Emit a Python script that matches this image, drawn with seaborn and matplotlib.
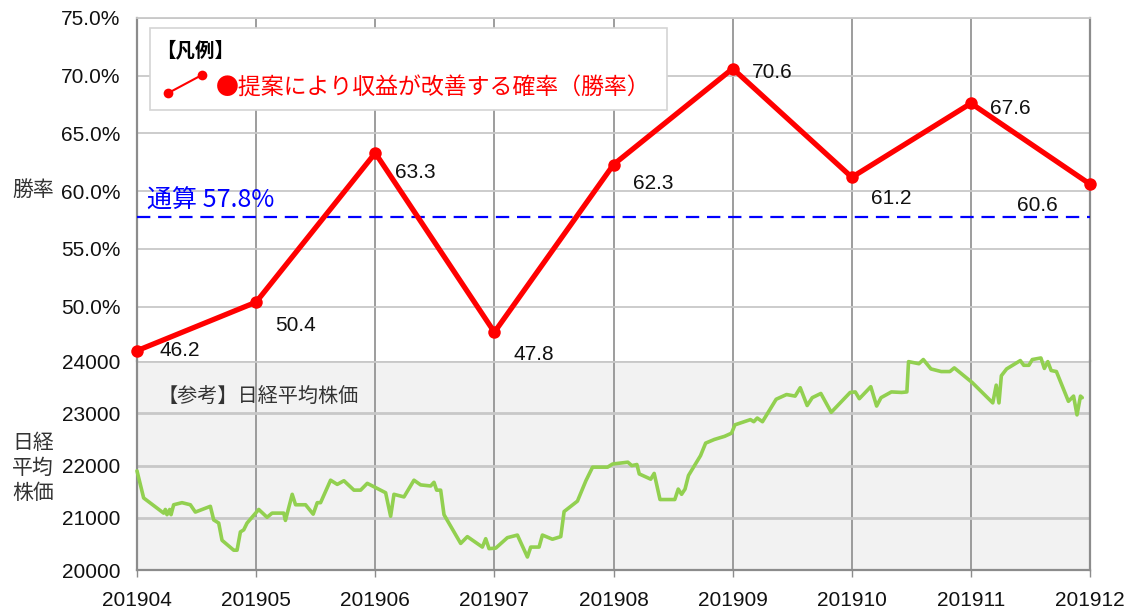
"""
Win rate by month with the Nikkei average as reference (two stacked panels).
"""

import numpy as np
import pandas as pd
import matplotlib
matplotlib.use('Agg')
import matplotlib.pyplot as plt
import seaborn as sns
from matplotlib.patches import Rectangle

# --- data -------------------------------------------------------------
months = ['201904', '201905', '201906', '201907', '201908',
          '201909', '201910', '201911', '201912']
win_rate = [46.2, 50.4, 63.3, 47.8, 62.3, 70.6, 61.2, 67.6, 60.6]
overall_rate = 57.8

# Nikkei average, position in months elapsed since 2019-04
nikkei_month = [
    0.000, 0.056, 0.224, 0.238, 0.252, 0.275, 0.286, 0.308, 0.378, 0.448,
    0.490, 0.616, 0.644, 0.686, 0.714, 0.812, 0.840, 0.868, 0.896, 0.924,
    1.022, 1.092, 1.134, 1.232, 1.246, 1.303, 1.331, 1.415, 1.479, 1.513,
    1.541, 1.625, 1.681, 1.737, 1.821, 1.877, 1.933, 2.087, 2.129, 2.157,
    2.241, 2.325, 2.381, 2.465, 2.493, 2.515, 2.549, 2.577, 2.717, 2.773,
    2.899, 2.927, 2.955, 3.011, 3.109, 3.193, 3.277, 3.305, 3.375, 3.403,
    3.487, 3.557, 3.585, 3.697, 3.768, 3.824, 3.950, 3.992, 4.120, 4.153,
    4.196, 4.216, 4.312, 4.341, 4.390, 4.514, 4.543, 4.571, 4.600, 4.629,
    4.730, 4.773, 4.846, 4.932, 4.990, 5.019, 5.149, 5.177, 5.206, 5.250,
    5.365, 5.452, 5.524, 5.567, 5.625, 5.668, 5.740, 5.827, 5.986, 6.029,
    6.063, 6.159, 6.208, 6.245, 6.332, 6.418, 6.462, 6.476, 6.563, 6.600,
    6.664, 6.750, 6.823, 6.860, 7.010, 7.183, 7.212, 7.235, 7.255, 7.299,
    7.414, 7.443, 7.486, 7.515, 7.587, 7.616, 7.645, 7.673, 7.717, 7.818,
    7.861, 7.890, 7.919, 7.934,
]
nikkei = [
    21900, 21380, 21090, 21160, 21060, 21160, 21060, 21250, 21290, 21250,
    21110, 21220, 20960, 20900, 20570, 20380, 20380, 20730, 20770, 20900,
    21160, 21010, 21090, 21090, 20950, 21450, 21250, 21250, 21070, 21290,
    21290, 21720, 21640, 21710, 21530, 21530, 21660, 21480, 21030, 21450,
    21400, 21720, 21630, 21610, 21680, 21530, 21530, 21060, 20510, 20640,
    20440, 20600, 20410, 20420, 20620, 20670, 20250, 20440, 20440, 20670,
    20590, 20640, 21120, 21320, 21710, 21970, 21970, 22030, 22065, 22000,
    22020, 21840, 21740, 21850, 21350, 21350, 21550, 21450, 21550, 21810,
    22190, 22430, 22500, 22560, 22620, 22780, 22880, 22840, 22910, 22840,
    23270, 23360, 23330, 23490, 23150, 23300, 23380, 23020, 23400, 23410,
    23280, 23510, 23140, 23300, 23410, 23400, 23410, 23990, 23950, 24030,
    23850, 23800, 23800, 23870, 23590, 23200, 23540, 23200, 23720, 23850,
    24010, 23920, 23920, 24030, 24060, 23860, 23990, 23820, 23800, 23230,
    23330, 22970, 23330, 23300,
]

# label offsets (points) for each win-rate value
label_offsets = [(16, 0), (14, -17), (14, -14), (14, -16), (14, -14),
                 (14, -3), (14, -15), (14, -4), (-53, -15)]

# --- style ------------------------------------------------------------
sns.set_theme(style='white')
plt.rcParams['font.family'] = ['Liberation Sans', 'Noto Sans CJK JP', 'DejaVu Sans']
plt.rcParams['axes.unicode_minus'] = False
CJK = ['Noto Sans CJK JP', 'DejaVu Sans']

RED = '#ff0000'
GREEN = '#92d050'
GRID_H = '#c8c8c8'
GRID_V = '#8c8c8c'

fig = plt.figure(figsize=(11.32, 6.11), dpi=100)
left, width = 0.121, 0.842
ax_top = fig.add_axes([left, 0.409, width, 0.562])
ax_bot = fig.add_axes([left, 0.067, width, 0.342], sharex=ax_top)

x_pos = np.arange(len(months))

# --- top panel: win rate ---------------------------------------------
df_win = pd.DataFrame({'pos': x_pos, 'rate': win_rate})
sns.lineplot(data=df_win, x='pos', y='rate', ax=ax_top, color=RED,
             linewidth=3.8, marker='o', markersize=9, markeredgewidth=0,
             estimator=None, zorder=5, clip_on=False)

ax_top.axhline(overall_rate, color='#0000ff', linestyle=(0, (6, 3.5)),
               linewidth=1.6, zorder=4)
ax_top.text(0.08, overall_rate + 1.35, '通算 57.8%', color='#0000ff',
            fontsize=18, va='center', ha='left', family=CJK, zorder=6)

for xp, val, off in zip(x_pos, win_rate, label_offsets):
    ax_top.annotate(f'{val:.1f}', (xp, val), xytext=off,
                    textcoords='offset points', ha='left', va='center',
                    fontsize=15, color='#111111', zorder=6)

ax_top.set_ylim(45.3, 75)
ax_top.set_yticks([50, 55, 60, 65, 70, 75])
ax_top.set_yticklabels([f'{v:.1f}%' for v in [50, 55, 60, 65, 70, 75]])
ax_top.set_xlim(0, len(months) - 1)
ax_top.yaxis.grid(True, color=GRID_H, linewidth=1.3)
ax_top.xaxis.grid(True, color=GRID_V, linewidth=1.2)
ax_top.set_axisbelow(True)
ax_top.tick_params(axis='y', length=0, pad=12, labelsize=15, labelcolor='#111111')
ax_top.tick_params(axis='x', length=0, labelbottom=False)
ax_top.set_xlabel('')
ax_top.set_ylabel('')
for side in ['left', 'right']:
    ax_top.spines[side].set_color(GRID_V)
    ax_top.spines[side].set_linewidth(1.6)
ax_top.spines['top'].set_color(GRID_H)
ax_top.spines['top'].set_linewidth(1.3)
ax_top.spines['bottom'].set_visible(False)

# legend box
ax_top.add_patch(Rectangle((0.0136, 0.731), 0.543, 0.24, transform=ax_top.transAxes,
                           facecolor='white', edgecolor='#d4d4d4', linewidth=1.2,
                           zorder=7))
ax_top.text(0.020, 0.906, '【凡例】', transform=ax_top.transAxes, fontsize=14,
            fontweight='bold', va='center', ha='left', color='black',
            family=CJK, zorder=8)
ax_top.plot([0.033, 0.068], [0.781, 0.833], transform=ax_top.transAxes,
            color=RED, linewidth=1.5, marker='o', markersize=7,
            markeredgewidth=0, zorder=8)
ax_top.text(0.083, 0.795, '●提案により収益が改善する確率（勝率）',
            transform=ax_top.transAxes, fontsize=16.5, color=RED,
            va='center', ha='left', family=CJK, zorder=8)

# --- bottom panel: Nikkei ---------------------------------------------
df_nk = pd.DataFrame({'month': nikkei_month, 'price': nikkei})
ax_bot.set_facecolor('#f2f2f2')
sns.lineplot(data=df_nk, x='month', y='price', ax=ax_bot, color=GREEN,
             linewidth=2.6, estimator=None, sort=False, zorder=5,
             clip_on=False)
ax_bot.set_ylim(20000, 24000)
ax_bot.set_yticks([20000, 21000, 22000, 23000, 24000])
ax_bot.set_xticks(x_pos)
ax_bot.set_xticklabels(months)
ax_bot.yaxis.grid(True, color=GRID_H, linewidth=2.0)
ax_bot.xaxis.grid(True, color=GRID_V, linewidth=1.2)
ax_bot.set_axisbelow(True)
ax_bot.tick_params(axis='y', length=0, pad=12, labelsize=15, labelcolor='#111111')
ax_bot.tick_params(axis='x', length=5, width=1, color=GRID_V, pad=10,
                   labelsize=15, labelcolor='#111111', bottom=True)
ax_bot.set_xlabel('')
ax_bot.set_ylabel('')
for side in ['left', 'right', 'bottom']:
    ax_bot.spines[side].set_color(GRID_V)
    ax_bot.spines[side].set_linewidth(1.6)
ax_bot.spines['top'].set_visible(False)
ax_bot.text(0.022, 0.833, '【参考】日経平均株価', transform=ax_bot.transAxes,
            fontsize=14.5, color='#333333', va='center', ha='left', family=CJK)

# --- side labels ------------------------------------------------------
fig.text(0.029, 1 - 190 / 611, '勝率', fontsize=15, color='#333333',
         ha='center', va='center', family=CJK)
fig.text(0.029, 1 - 468 / 611, '日経\n平均\n株価', fontsize=15, color='#333333',
         ha='center', va='center', linespacing=1.2, family=CJK)

fig.savefig('out.png', dpi=100)
